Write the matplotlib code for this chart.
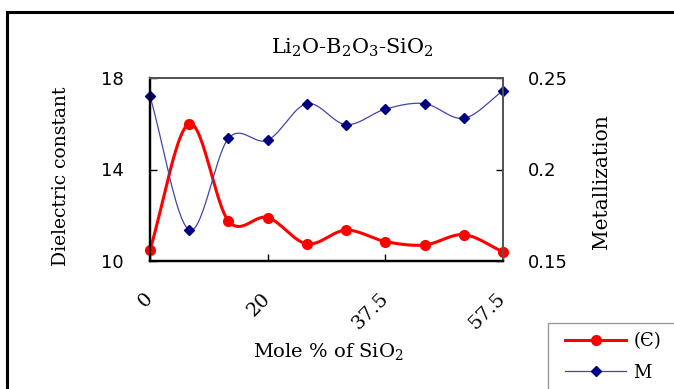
import numpy as np
import matplotlib
matplotlib.use("Agg")
from matplotlib import pyplot as plt
from matplotlib.patches import Rectangle
from matplotlib.lines import Line2D

plt.rcParams['font.family'] = ['DejaVu Serif']
plt.rcParams['mathtext.fontset'] = 'dejavuserif'

# composition steps (category axis), only every third one labelled
steps = np.arange(10)
tick_pos = [0, 3, 6, 9]
tick_labels = ["0", "20", "37.5", "57.5"]

# dielectric constant (left axis) and metallization (right axis)
eps = np.array([10.5, 16.0, 11.75, 11.9, 10.75, 11.35, 10.85, 10.7, 11.15, 10.4])
metal = np.array([0.240, 0.167, 0.217, 0.216, 0.236, 0.2245, 0.233, 0.236, 0.228, 0.243])


# smooth curve through the points (Catmull-Rom, like a spreadsheet "smoothed line")
def smooth(x, y, n=30):
      xs, ys = [], []
      px = np.concatenate([[2*x[0]-x[1]], x, [2*x[-1]-x[-2]]])
      py = np.concatenate([[2*y[0]-y[1]], y, [2*y[-1]-y[-2]]])
      t = np.linspace(0, 1, n)
      for i in range(1, len(px)-2):
            for p, out in ((px, xs), (py, ys)):
                  p0, p1, p2, p3 = p[i-1], p[i], p[i+1], p[i+2]
                  out.extend(0.5*((2*p1) + (-p0+p2)*t + (2*p0-5*p1+4*p2-p3)*t**2
                                  + (-p0+3*p1-3*p2+p3)*t**3))
      return np.array(xs), np.array(ys)


W, H = 674, 389
fig = plt.figure(figsize=(W/100, H/100), dpi=100)

# outer frame of the figure
fig.patches.append(Rectangle((7/W, -0.05), 1.0, 1 - 12/H + 0.05, transform=fig.transFigure,
                             fill=False, edgecolor="black", linewidth=2.2, clip_on=False))

ax = fig.add_axes([150/W, 1-261/H, 353/W, 183/H])
ax2 = ax.twinx()

ax.set_xlim(0, 9)
ax.set_ylim(10, 18)
ax2.set_ylim(0.15, 0.25)

sx, sy = smooth(steps.astype(float), eps)
ax.plot(sx, sy, color="#ff0000", linewidth=2.2, clip_on=False, zorder=3)
ax.plot(steps, eps, "o", color="#ff0000", markersize=7, clip_on=False, zorder=4)

mx, my = smooth(steps.astype(float), metal)
ax2.plot(mx, my, color="#4444aa", linewidth=0.9, clip_on=False)
ax2.plot(steps, metal, "D", color="#000080", markersize=5, clip_on=False)

ax.set_yticks([10, 14, 18])
ax.set_yticklabels(["10", "14", "18"], fontsize=13, family="DejaVu Sans")
ax2.set_yticks([0.15, 0.2, 0.25])
ax2.set_yticklabels(["0.15", "0.2", "0.25"], fontsize=13, family="DejaVu Sans")
ax.set_xticks(tick_pos)
ax.set_xticklabels(tick_labels, fontsize=14, family="DejaVu Serif", rotation=45,
                   ha="right", va="center", rotation_mode="anchor")

ax.tick_params(axis="y", direction="in", length=5, pad=19, width=1)
ax.tick_params(axis="x", direction="in", length=5, pad=25, width=1)
ax2.tick_params(axis="y", direction="in", length=5, pad=18, width=1)

for a in (ax, ax2):
      for side in ("left", "bottom"):
            a.spines[side].set_color("black")
            a.spines[side].set_linewidth(1.6)
      for side in ("top", "right"):
            a.spines[side].set_color("#555555")
            a.spines[side].set_linewidth(1.4)

fig.text(352/W, 1-48/H, "Li$_2$O-B$_2$O$_3$-SiO$_2$", ha="center", va="center", fontsize=15)
fig.text(328/W, 1-352/H, "Mole % of SiO$_2$", ha="center", va="center", fontsize=14)
fig.text(61/W, 1-176/H, "Dielectric constant", ha="center", va="center", rotation=90, fontsize=13.5)
fig.text(602/W, 1-182/H, "Metallization", ha="center", va="center", rotation=90, fontsize=14.5)

# legend box
fig.patches.append(Rectangle((548/W, -0.05), 0.3, 1 - 323/H + 0.05, transform=fig.transFigure,
                             fill=False, edgecolor="#999999", linewidth=1, clip_on=False))
handles = [Line2D([], [], color="#ff0000", linewidth=2.2, marker="o", markersize=7, markevery=[1]),
           Line2D([], [], color="#4444aa", linewidth=0.9, marker="D", markersize=5,
                  markerfacecolor="#000080", markeredgecolor="#000080", markevery=[1])]
for h in handles:
      h.set_data([0, 1, 2], [0, 0, 0])
fig.legend(handles, ["(Є)", "M"], loc="upper left", bbox_to_anchor=(556/W, 1-323/H),
           frameon=False, fontsize=13, handlelength=3.4, handletextpad=0.4,
           labelspacing=0.75, borderpad=0)

fig.savefig("out.png", dpi=100)
